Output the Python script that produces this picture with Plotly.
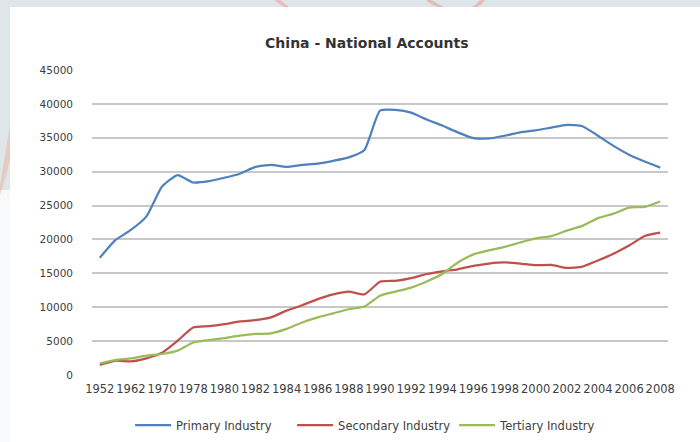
import plotly.graph_objects as go

# Category labels (only every other one is printed on the axis)
years = ["1952", "1957", "1962", "1965", "1970", "1975", "1978", "1979",
         "1980", "1981", "1982", "1983", "1984", "1985", "1986", "1987",
         "1988", "1989", "1990", "1991", "1992", "1993", "1994", "1995",
         "1996", "1997", "1998", "1999", "2000", "2001", "2002", "2003",
         "2004", "2005", "2006", "2007", "2008"]

primary = [17300, 19900, 21400, 23400, 27800, 29500, 28400, 28600,
           29100, 29700, 30700, 31000, 30700, 31000, 31200, 31600,
           32100, 33200, 39000, 39100, 38700, 37700, 36800, 35800,
           34950, 34900, 35300, 35800, 36100, 36500, 36900, 36700,
           35300, 33800, 32500, 31500, 30600]

secondary = [1500, 2100, 2000, 2450, 3300, 5060, 7000, 7200,
             7500, 7900, 8100, 8500, 9500, 10300, 11200, 11900,
             12300, 11900, 13750, 13900, 14300, 14900, 15300, 15600,
             16100, 16450, 16600, 16450, 16200, 16250, 15800, 16000,
             16900, 17900, 19100, 20500, 21000]

tertiary = [1700, 2200, 2450, 2850, 3100, 3600, 4800, 5150,
            5450, 5800, 6050, 6150, 6800, 7750, 8500, 9100,
            9700, 10100, 11700, 12300, 12900, 13800, 14900, 16600,
            17800, 18400, 18900, 19550, 20150, 20500, 21300, 22000,
            23150, 23800, 24700, 24800, 25600]

y_ticks = [0, 5000, 10000, 15000, 20000, 25000, 30000, 35000, 40000, 45000]

series = [
    ("Primary Industry", primary, "#4F81BD"),
    ("Secondary Industry", secondary, "#C0504D"),
    ("Tertiary Industry", tertiary, "#9BBB59"),
]

fig = go.Figure()
for name, vals, color in series:
    fig.add_trace(go.Scatter(
        x=years, y=vals, name=name, mode="lines",
        line=dict(color=color, width=2.25, shape="spline", smoothing=0.5),
    ))

font_family = "'DejaVu Sans', sans-serif"

# Slide backdrop behind the white chart card
W, H = 700, 442
L, R, T, B = 92, 32, 70, 67
pw, ph = W - L - R, H - T - B


def px(x):
    return (x - L) / pw


def py(y):
    return (H - B - y) / ph


shapes = [
    dict(type="rect", xref="paper", yref="paper", layer="below",
         x0=px(10), x1=px(700), y0=py(442), y1=py(7),
         fillcolor="white", line=dict(width=0)),
    dict(type="rect", xref="paper", yref="paper", layer="below",
         x0=px(0), x1=px(10), y0=py(442), y1=py(190),
         fillcolor="#f7f9fa", line=dict(width=0)),
    dict(type="path", xref="paper", yref="paper", layer="below",
         path=(f"M {px(0)},{py(185)} Q {px(6)},{py(150)} {px(10)},{py(125)} "
               f"L {px(10)},{py(160)} Q {px(5)},{py(180)} {px(0)},{py(195)} Z"),
         fillcolor="rgba(240,170,140,0.45)", line=dict(width=0)),
    dict(type="path", xref="paper", yref="paper", layer="below",
         path=(f"M {px(274)},{py(0)} Q {px(279)},{py(4)} {px(284)},{py(7)} "
               f"L {px(289)},{py(7)} Q {px(284)},{py(3)} {px(280)},{py(0)} Z"),
         fillcolor="rgba(240,150,140,0.5)", line=dict(width=0)),
    dict(type="path", xref="paper", yref="paper", layer="below",
         path=(f"M {px(426)},{py(0)} Q {px(431)},{py(5)} {px(438)},{py(7)} "
               f"L {px(444)},{py(7)} Q {px(436)},{py(3)} {px(432)},{py(0)} Z"),
         fillcolor="rgba(230,150,130,0.5)", line=dict(width=0)),
    dict(type="path", xref="paper", yref="paper", layer="below",
         path=(f"M {px(472)},{py(7)} Q {px(477)},{py(4)} {px(480)},{py(0)} "
               f"L {px(485)},{py(0)} Q {px(482)},{py(5)} {px(477)},{py(7)} Z"),
         fillcolor="rgba(230,150,130,0.5)", line=dict(width=0)),
]

fig.update_layout(
    width=W, height=H,
    margin=dict(l=L, r=R, t=T, b=B, autoexpand=False),
    paper_bgcolor="#dfe6ea",
    plot_bgcolor="white",
    font=dict(family=font_family, color="#404040", size=10.5),
    title=dict(text="<b>China - National Accounts</b>", x=0.524, xanchor="center",
               y=0.902, yanchor="middle",
               font=dict(size=14, color="#333333", family=font_family)),
    showlegend=True,
    legend=dict(orientation="h", x=0.488, xanchor="center", y=-0.164, yanchor="middle",
                font=dict(size=11.5, color="#404040"), bgcolor="rgba(0,0,0,0)",
                itemwidth=36, tracegroupgap=0,
                entrywidth=111, entrywidthmode="pixels"),
    shapes=shapes,
    xaxis=dict(
        type="category", tickmode="array",
        tickvals=years[::2], ticktext=years[::2],
        showgrid=False, zeroline=False, showline=False, ticks="",
        tickfont=dict(size=11.5, color="#404040"), tickangle=0,
        range=[-0.5, len(years) - 0.5], ticklabelstandoff=5,
    ),
    yaxis=dict(
        range=[0, 45000], tickmode="array", tickvals=y_ticks,
        ticktext=[str(v) for v in y_ticks],
        showgrid=True, gridcolor="#c8c8c8", gridwidth=1.5,
        zeroline=False, showline=False, ticks="",
        tickfont=dict(size=10.5, color="#404040"), ticklabelstandoff=18,
    ),
)

fig.write_html("out.html")
